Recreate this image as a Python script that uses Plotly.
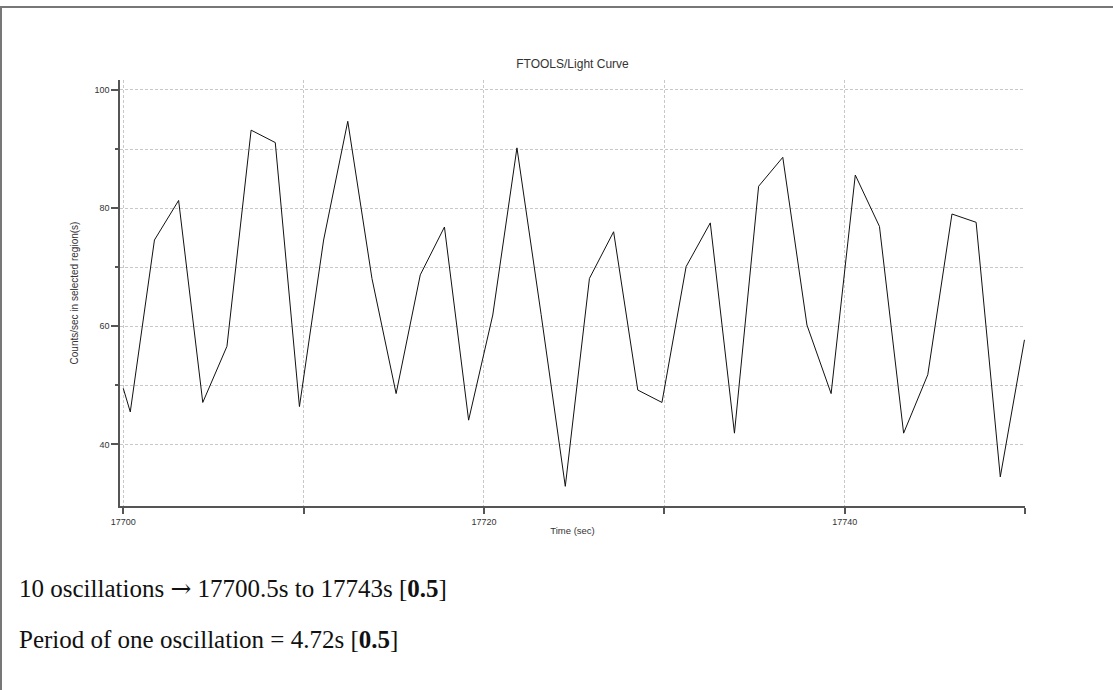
import plotly.graph_objects as go

# ---- data ----
times = [17700.00, 17700.39, 17701.73, 17703.07, 17704.41, 17705.75, 17707.09, 17708.43,
         17709.77, 17711.11, 17712.45, 17713.79, 17715.13, 17716.47, 17717.81, 17719.15,
         17720.49, 17721.83, 17723.17, 17724.51, 17725.85, 17727.19, 17728.53, 17729.87,
         17731.21, 17732.55, 17733.89, 17735.23, 17736.57, 17737.91, 17739.25, 17740.59,
         17741.93, 17743.27, 17744.61, 17745.95, 17747.29, 17748.63, 17749.97]
counts = [49.5, 45.5, 74.6, 81.3, 47.1, 56.6, 93.2, 91.1,
          46.4, 74.6, 94.7, 68.1, 48.6, 68.7, 76.8, 44.1,
          61.9, 90.2, 62.0, 32.9, 68.1, 76.0, 49.2, 47.1,
          70.1, 77.5, 41.9, 83.7, 88.6, 60.2, 48.6, 85.6,
          76.9, 41.9, 51.8, 79.0, 77.6, 34.5, 57.7]

x_tickvals = [17700, 17710, 17720, 17730, 17740, 17750]
x_ticktext = ["17700", "", "17720", "", "17740", ""]
y_tickvals = [40, 60, 80, 100]
y_ticktext = ["40", "60", "80", "100"]
y_minor_tickvals = [50, 70, 90]

title_text = "FTOOLS/Light Curve"
x_title = "Time (sec)"
y_title = "Counts/sec in selected region(s)"
arrow = '<span style="font-family:DejaVu Serif">\u2192</span>'
note_lines = ["10 oscillations " + arrow + " 17700.5s to 17743s [<b>0.5</b>]",
              "Period of one oscillation = 4.72s [<b>0.5</b>]"]

# ---- layout geometry (pixels) ----
W, H = 1113, 690
L, R, T, B = 120, 88, 80, 184
pw, ph = W - L - R, H - T - B


def px(xp):
    return (xp - L) / pw


def py(yp):
    return (H - B - yp) / ph


fig = go.Figure()
fig.add_trace(go.Scatter(x=times, y=counts, mode="lines",
                         line=dict(color="#111111", width=1),
                         showlegend=False, cliponaxis=True))

grid = dict(gridcolor="#c8c8c8", gridwidth=1, griddash="3px,2px")

fig.update_layout(
    width=W, height=H,
    margin=dict(l=L, r=R, t=T, b=B, pad=0),
    paper_bgcolor="white", plot_bgcolor="white",
    showlegend=False,
    font=dict(family="Liberation Sans, Arial, sans-serif", color="#333333"),
    title=dict(text=title_text, x=0.5, xref="paper", xanchor="center",
               y=1 - 64 / H, yanchor="middle",
               font=dict(size=12, color="#333333")),
    xaxis=dict(range=[17699.82, 17750.0], tickvals=x_tickvals, ticktext=x_ticktext,
               ticks="outside", ticklen=6, tickwidth=1.5, tickcolor="#555555",
               showline=True, linecolor="#555555", linewidth=1.5,
               showgrid=True, **grid, zeroline=False,
               tickfont=dict(size=9, color="#333333"),
               title=dict(text=x_title, font=dict(size=9.5, color="#333333"), standoff=2)),
    yaxis=dict(range=[29.57, 101.69], tickvals=y_tickvals, ticktext=y_ticktext,
               ticks="outside", ticklen=7, tickwidth=1.5, tickcolor="#555555",
               showline=True, linecolor="#555555", linewidth=1.5,
               showgrid=True, **grid, zeroline=False,
               tickfont=dict(size=9, color="#333333"),
               minor=dict(tickvals=y_minor_tickvals, ticks="outside", ticklen=3,
                          tickcolor="#555555", showgrid=True, **grid),
               title=dict(text=y_title, font=dict(size=10, color="#333333"), standoff=14)),
)

# frame around the figure (top and left edges visible)
fig.add_shape(type="line", xref="paper", yref="paper",
              x0=px(0), x1=px(W), y0=py(7), y1=py(7),
              line=dict(color="#777777", width=2))
fig.add_shape(type="line", xref="paper", yref="paper",
              x0=px(1), x1=px(1), y0=py(7), y1=py(H),
              line=dict(color="#777777", width=2))

for txt, yy in zip(note_lines, [588, 639]):
    fig.add_annotation(text=txt, xref="paper", yref="paper",
                       x=px(17), y=py(yy), xanchor="left", yanchor="middle",
                       showarrow=False, align="left",
                       font=dict(family="Liberation Serif, Times New Roman, serif",
                                 size=25, color="#111111"))

fig.write_html("out.html", config={"displayModeBar": False},
               post_script="document.body.style.margin='0px';document.body.style.overflow='hidden';")
